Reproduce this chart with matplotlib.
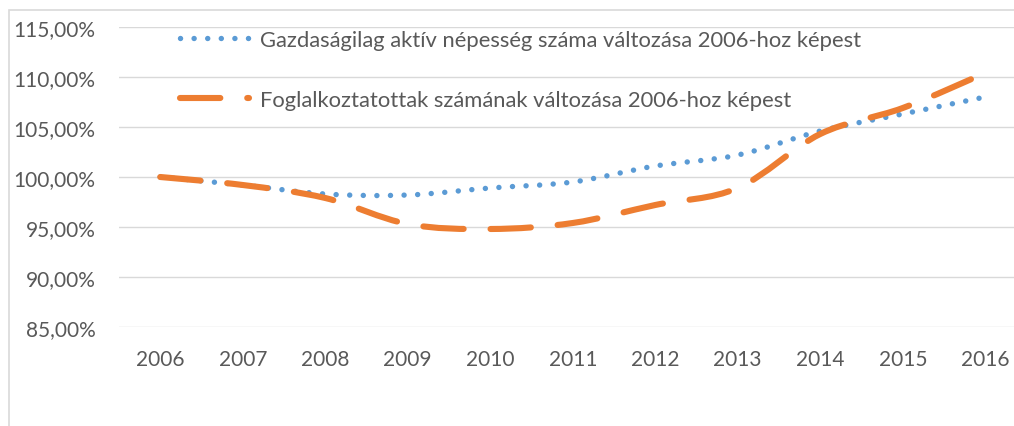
import matplotlib.pyplot as plt
from matplotlib.path import Path
from matplotlib.patches import PathPatch, Rectangle
from matplotlib.lines import Line2D
from matplotlib.ticker import FuncFormatter, MultipleLocator

plt.rcParams['font.family'] = ['Lato', 'DejaVu Sans']

# data (2006 = 100%)
years = ['2006', '2007', '2008', '2009', '2010', '2011', '2012', '2013', '2014', '2015', '2016']
aktiv = [100.0, 99.2, 98.3, 98.2, 98.9, 99.5, 101.1, 102.2, 104.6, 106.3, 108.0]
foglalkoztatott = [100.0, 99.2, 97.9, 95.3, 94.8, 95.4, 97.2, 98.9, 104.3, 106.9, 110.4]
labels = ['Gazdaságilag aktív népesség száma változása 2006-hoz képest',
          'Foglalkoztatottak számának változása 2006-hoz képest']

BLUE = '#5B9BD5'
ORANGE = '#ED7D31'
TEXT = '#595959'
GRID = '#D9D9D9'


def smooth_path(xs, ys):
    # Excel style smoothed line: catmull-rom segments as cubic beziers
    verts = [(xs[0], ys[0])]
    codes = [Path.MOVETO]
    n = len(xs)
    for i in range(n - 1):
        x0, y0 = (xs[i - 1], ys[i - 1]) if i > 0 else (xs[i], ys[i])
        x1, y1 = xs[i], ys[i]
        x2, y2 = xs[i + 1], ys[i + 1]
        x3, y3 = (xs[i + 2], ys[i + 2]) if i + 2 < n else (x2, y2)
        verts += [(x1 + (x2 - x0) / 6, y1 + (y2 - y0) / 6),
                  (x2 - (x3 - x1) / 6, y2 - (y3 - y1) / 6),
                  (x2, y2)]
        codes += [Path.CURVE4] * 3
    return Path(verts, codes)


fig = plt.figure(figsize=(10.14, 4.27), dpi=100)
ax = fig.add_axes([119 / 1014, 1 - 328 / 427, 907.5 / 1014, 300 / 427])

xs = list(range(len(years)))

blue_ls = (0, (0.01, 2.5))
orange_ls = (0, (6.6, 4.4))

ax.add_patch(PathPatch(smooth_path(xs, aktiv), fill=False, edgecolor=BLUE,
                       lw=3.9, ls=blue_ls, capstyle='round', zorder=3))
ax.add_patch(PathPatch(smooth_path(xs, foglalkoztatott), fill=False, edgecolor=ORANGE,
                       lw=4.4, ls=orange_ls, capstyle='round', zorder=4))

ax.set_xlim(-0.5, len(years) - 0.5)
ax.set_ylim(85, 115)
ax.set_xticks(xs)
ax.set_xticklabels(years)
ax.yaxis.set_major_locator(MultipleLocator(5))
ax.yaxis.set_major_formatter(FuncFormatter(lambda v, p: f'{v:.2f}%'.replace('.', ',')))

ax.tick_params(axis='both', length=0, labelsize=15, colors=TEXT)
ax.tick_params(axis='y', pad=17)
ax.tick_params(axis='x', pad=16)
ax.grid(axis='y', color=GRID, lw=1.0)
ax.set_axisbelow(True)
for s in ax.spines.values():
    s.set_visible(False)

handles = [Line2D([], [], color=BLUE, lw=3.9, ls=blue_ls, dash_capstyle='round'),
           Line2D([], [], color=ORANGE, lw=4.4, ls=orange_ls, dash_capstyle='round')]
leg = ax.legend(handles, labels, loc='upper left', bbox_to_anchor=(0.067, 0.99),
                frameon=False, fontsize=15.8, labelcolor=TEXT, handlelength=3.15,
                handletextpad=0.5, labelspacing=1.83, borderpad=0, borderaxespad=0)

# chart area border (only left and top edges visible in the crop)
fig.patches.append(Rectangle((9 / 1014, -0.2), 1.5, 1.2 - 11 / 427,
                             transform=fig.transFigure, fill=False,
                             edgecolor=GRID, lw=1.2))

plt.savefig('out.png', dpi=100)
